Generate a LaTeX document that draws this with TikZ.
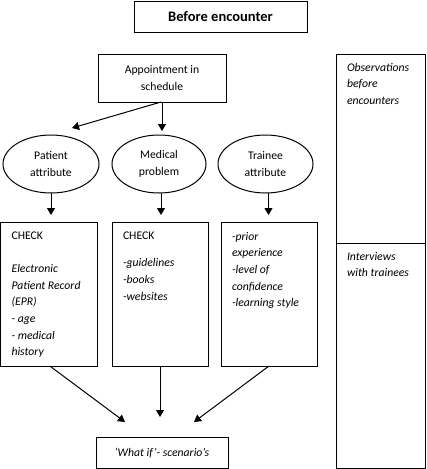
\documentclass[tikz,border=0pt]{standalone}
\usepackage{fontspec}
\setmainfont{Carlito}
\usetikzlibrary{arrows.meta,shapes.geometric}
\newcommand\myfs{\fontsize{11.7}{16.7}\selectfont}
\newcommand\mypar[2]{\parbox[t]{#1}{\raggedright\myfs #2}}
\begin{document}
\begin{tikzpicture}[x=1pt,y=-1pt,
  box/.style={draw, line width=1pt, inner sep=0pt, outer sep=0pt},
  ell/.style={draw, ellipse, line width=1pt, inner sep=0pt, outer sep=0pt,
    minimum height=58pt, align=center, font=\myfs},
  arr/.style={-{Triangle[length=7pt,width=8pt]}, line width=1pt},
  txt/.style={inner sep=0pt, outer sep=0pt, anchor=base west}]
\useasboundingbox (0,0) rectangle (427,469);

\node[box, minimum width=173pt, minimum height=31pt,
  font=\bfseries\fontsize{14.5}{17}\selectfont] (title) at (220.5,16.5) {Before encounter};

\node[box, minimum width=128pt, minimum height=48pt, align=center, font=\myfs]
  (appt) at (162,78) {Appointment in\\schedule};

\node[box, minimum width=89pt, minimum height=189pt] (obs) at (380.5,148.5) {};
\node[box, minimum width=89pt, minimum height=225pt] (interv) at (380.5,355.5) {};
\node[txt] (tobs) at ([xshift=11pt,yshift=-17pt]obs.north west)
  {\mypar{80pt}{\itshape Observations\\before\\encounters}};
\node[txt] (tint) at ([xshift=11pt,yshift=-17pt]interv.north west)
  {\mypar{80pt}{\itshape Interviews\\with trainees}};

\node[ell, minimum width=96pt] (pa) at (51,164) {Patient\\attribute};
\node[ell, minimum width=94pt] (mp) at (159,164) {Medical\\problem};
\node[ell, minimum width=95pt] (ta) at (265.5,164) {Trainee\\attribute};

\node[box, minimum width=96.5pt, minimum height=144pt] (b1) at (48.8,294) {};
\node[box, minimum width=96pt, minimum height=144pt] (b2) at (160,294) {};
\node[box, minimum width=96pt, minimum height=144pt] (b3) at (269,294) {};

\node[txt] (t1) at ([xshift=11pt,yshift=-17pt]b1.north west)
  {\mypar{84pt}{CHECK\\[16.7pt]\itshape Electronic\\Patient Record\\(EPR)\\- age\\- medical\\history}};
\node[txt] (t2) at ([xshift=11pt,yshift=-17pt]b2.north west)
  {\mypar{84pt}{CHECK\\[11pt]\itshape -guidelines\\-books\\-websites}};
\node[txt] (t3) at ([xshift=11pt,yshift=-18pt]b3.north west)
  {\mypar{84pt}{\itshape -prior\\experience\\-level of\\confidence\\-learning style}};

\node[box, minimum width=132pt, minimum height=31pt, font=\myfs\itshape]
  (wi) at (162,452.5) {‘What if’- scenario’s};

\coordinate (a1e) at (72,128);
\coordinate (a2e) at (162,131);
\draw[arr] ([xshift=-1pt]appt.south) -- (a1e);
\draw[arr] (appt.south) -- (a2e);

\draw[arr, shorten >=7pt] (pa.south) -- (pa.south |- b1.north);
\draw[arr, shorten >=7pt] ([xshift=2pt]mp.south) -- ([xshift=2pt]mp.south |- b2.north);
\draw[arr, shorten >=7pt] ([xshift=3pt]ta.south) -- ([xshift=3pt]ta.south |- b3.north);

\coordinate (w1) at (125,422);
\coordinate (w2) at (160,417);
\coordinate (w3) at (194,422);
\draw[arr] ([xshift=1pt]b1.south) -- (w1);
\draw[arr] (b2.south) -- (w2);
\draw[arr] (b3.south) -- (w3);
\end{tikzpicture}
\end{document}
